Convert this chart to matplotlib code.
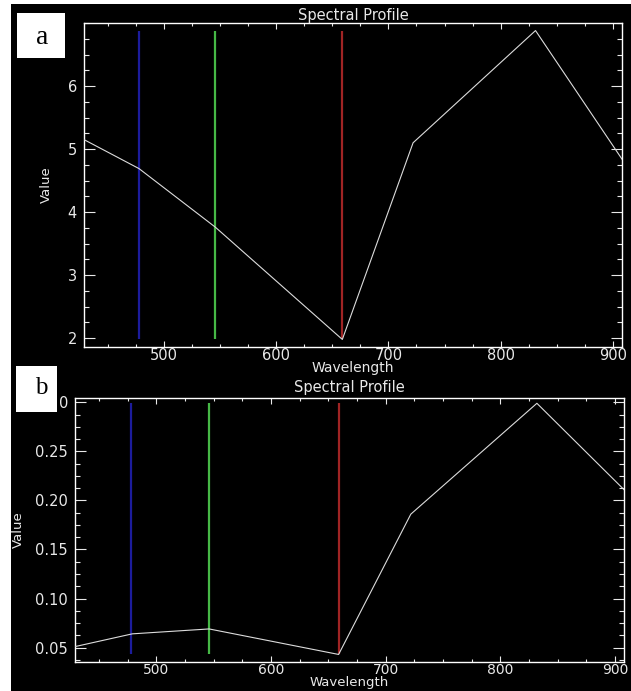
import matplotlib
matplotlib.use("Agg")
import matplotlib.pyplot as plt
from matplotlib.patches import Rectangle
from matplotlib.ticker import MultipleLocator

# ---------------- data ----------------
wavelength_a = [429, 478, 546, 659, 722, 831, 908]
values_a = [5.15, 4.69, 3.76, 1.98, 5.10, 6.88, 4.84]

wavelength_b = [429, 479, 546, 659, 722, 832, 908]
values_b = [0.051, 0.064, 0.069, 0.043, 0.186, 0.299, 0.211]

rgb_band_wl = [478, 546, 659]          # blue, green, red display bands
rgb_colors = ["#1c1c9c", "#46b846", "#a02424"]

x_ticks = [500, 600, 700, 800, 900]
y_ticks_a = [2, 3, 4, 5, 6]
y_ticks_b = [0.05, 0.10, 0.15, 0.20, 0.25, 0.30]
y_ticklabels_b = ["0.05", "0.10", "0.15", "0.20", "0.25", "0"]

W, H = 631, 691
fig = plt.figure(figsize=(W / 100, H / 100), dpi=100, facecolor="white")
plt.rcParams["font.family"] = ["DejaVu Sans"]

# black background of the screenshot
fig.add_artist(Rectangle((11 / W, 0), 1 - 11 / W, 1 - 4 / H, transform=fig.transFigure,
                         facecolor="black", edgecolor="none", zorder=-5))


def px_axes(l, t, r, b):
    return fig.add_axes([l / W, 1 - b / H, (r - l) / W, (b - t) / H])


def style(ax, xlim, ylim, yminor, xpad, title_pad):
    ax.set_facecolor("black")
    for s in ax.spines.values():
        s.set_color("white")
        s.set_linewidth(1.0)
    ax.set_xlim(*xlim)
    ax.set_ylim(*ylim)
    ax.set_xticks(x_ticks)
    ax.xaxis.set_minor_locator(MultipleLocator(25))
    ax.yaxis.set_minor_locator(MultipleLocator(yminor))
    ax.tick_params(which="both", direction="in", colors="#e8e8e8", top=True, right=True,
                   width=0.8, labelsize=10.5)
    ax.tick_params(axis="x", which="major", length=4.3, pad=xpad)
    ax.tick_params(axis="x", which="minor", length=2.2)
    ax.tick_params(axis="y", which="major", length=7.9, pad=5)
    ax.tick_params(axis="y", which="minor", length=3.8)
    ax.set_title("Spectral Profile", color="#e8e8e8", fontsize=10.5, pad=title_pad)
    ax.set_xlabel("Wavelength", color="#e8e8e8", fontsize=10)
    ax.set_ylabel("Value", color="#e8e8e8", fontsize=9.5)


# ---------------- panel a ----------------
ax1 = px_axes(84, 23, 622, 347)
style(ax1, (429, 908), (1.86, 7.0), 0.25, 0.5, 2)
ax1.set_yticks(y_ticks_a)
ax1.xaxis.set_label_coords(0.5, -0.042)
ax1.yaxis.set_label_coords(-0.058, 0.5)
for wl, c in zip(rgb_band_wl, rgb_colors):
    ax1.vlines(wl, min(values_a), max(values_a), color=c, linewidth=1.6, zorder=2)
ax1.plot(wavelength_a, values_a, color="#dcdcdc", linewidth=0.8, zorder=3)

# ---------------- panel b ----------------
ax2 = px_axes(75, 398, 624, 662)
style(ax2, (429, 908), (0.0353, 0.3044), 0.0125, 1.0, 4)
ax2.tick_params(axis="x", labelsize=10)
ax2.set_yticks(y_ticks_b)
ax2.set_yticklabels(y_ticklabels_b)
ax2.xaxis.label.set_fontsize(9.5)
ax2.xaxis.set_label_coords(0.5, -0.054)
ax2.yaxis.set_label_coords(-0.091, 0.5)
for wl, c in zip(rgb_band_wl, rgb_colors):
    ax2.vlines(wl, min(values_b), max(values_b), color=c, linewidth=1.6, zorder=2)
ax2.plot(wavelength_b, values_b, color="#dcdcdc", linewidth=0.8, zorder=3)

# ---------------- panel letters ----------------
fig.add_artist(Rectangle((17 / W, 1 - 58 / H), 48 / W, 45 / H, transform=fig.transFigure,
                         facecolor="white", edgecolor="none", zorder=5))
fig.text(42 / W, 1 - 38 / H, "a", fontsize=20, family="Liberation Serif",
         ha="center", va="center", color="black", zorder=6)
fig.add_artist(Rectangle((16 / W, 1 - 412 / H), 41 / W, 46 / H, transform=fig.transFigure,
                         facecolor="white", edgecolor="none", zorder=5))
fig.text(41 / W, 1 - 388 / H, "b", fontsize=18, family="Liberation Serif",
         ha="center", va="center", color="black", zorder=6)

fig.savefig("out.png", dpi=100, facecolor="white")
